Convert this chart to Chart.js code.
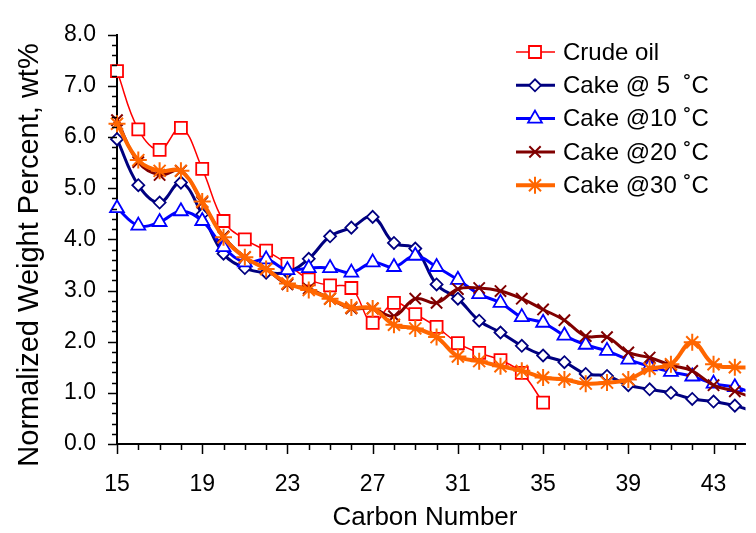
<!DOCTYPE html>
<html>
<head>
<meta charset="utf-8">
<script src="https://cdn.jsdelivr.net/npm/chart.js@4/dist/chart.umd.min.js"></script>
<style>
  html, body { margin: 0; padding: 0; background: #fff; }
  #wrap { width: 756px; height: 533px; position: relative; }
</style>
</head>
<body>
<div id="wrap"><canvas id="chart"></canvas></div>
<script>
// --- data ---
const carbonNumbers = [15,16,17,18,19,20,21,22,23,24,25,26,27,28,29,30,31,32,33,34,35,36,37,38,39,40,41,42,43,44,45];
const crudeOil = [7.29, 6.15, 5.75, 6.18, 5.38, 4.36, 4.00, 3.78, 3.52, 3.22, 3.10, 3.05, 2.37, 2.76, 2.54, 2.29, 1.97, 1.78, 1.64, 1.39, 0.81];
const cake5  = [5.96, 5.06, 4.72, 5.11, 4.49, 3.72, 3.44, 3.35, 3.36, 3.62, 4.06, 4.23, 4.44, 3.93, 3.82, 3.12, 2.84, 2.41, 2.18, 1.92, 1.73, 1.60, 1.37, 1.33, 1.15, 1.07, 1.00, 0.88, 0.83, 0.75, 0.62];
const cake10 = [4.61, 4.27, 4.34, 4.55, 4.36, 3.85, 3.55, 3.61, 3.40, 3.44, 3.44, 3.35, 3.55, 3.46, 3.68, 3.46, 3.21, 2.93, 2.76, 2.48, 2.37, 2.12, 1.94, 1.82, 1.65, 1.52, 1.41, 1.32, 1.18, 1.11, 0.98];
const cake20 = [6.33, 5.51, 5.26, 5.34, 4.72, 4.06, 3.65, 3.42, 3.12, 3.04, 2.84, 2.65, 2.65, 2.50, 2.84, 2.76, 3.03, 3.05, 2.99, 2.84, 2.63, 2.42, 2.11, 2.09, 1.79, 1.69, 1.54, 1.43, 1.15, 1.03, 0.88];
const cake30 = [6.26, 5.55, 5.34, 5.34, 4.74, 4.04, 3.65, 3.42, 3.14, 3.01, 2.84, 2.67, 2.65, 2.33, 2.26, 2.09, 1.71, 1.62, 1.52, 1.43, 1.30, 1.26, 1.18, 1.20, 1.26, 1.47, 1.56, 1.99, 1.56, 1.50, 1.50];
const seriesNames = ['Crude oil', 'Cake @ 5  \u02DAC', 'Cake @10 \u02DAC', 'Cake @20 \u02DAC', 'Cake @30 \u02DAC'];
const xTickLabels = [15, 19, 23, 27, 31, 35, 39, 43];
const yTickLabels = ['0.0','1.0','2.0','3.0','4.0','5.0','6.0','7.0','8.0'];

const FONT = '"Liberation Sans", Arial, sans-serif';

function pts(values) {
    return values.map((v, i) => ({ x: carbonNumbers[i], y: v }));
}

function series(i, values, color, lineW, style, radius, ptW) {
    return {
        label: seriesNames[i],
        data: pts(values),
        borderColor: color,
        borderWidth: lineW,
        pointStyle: style,
        pointRadius: radius,
        pointBorderColor: color,
        pointBackgroundColor: '#fff',
        pointBorderWidth: ptW,
        tension: 0.4,
        order: 4 - i,
        clip: { left: 20, top: 20, right: 0, bottom: 20 }
    };
}

const datasets = [
    series(0, crudeOil, '#FF0000', 1.5, 'rect', 8.5, 1.8),
    series(1, cake5, '#000080', 3, 'rectRot', 6, 1.8),
    series(2, cake10, '#0000FF', 3, 'triangle', 8, 1.8),
    series(3, cake20, '#800000', 3, 'crossRot', 8, 2),
    series(4, cake30, '#FF6600', 4, 'star', 8.5, 2)
];

function drawMarker(ctx, ds, px, py) {
    ctx.save();
    ctx.fillStyle = '#fff';
    ctx.strokeStyle = ds.borderColor;
    ctx.lineWidth = ds.pointBorderWidth;
    Chart.helpers.drawPoint(ctx, { pointStyle: ds.pointStyle, radius: ds.pointRadius, borderWidth: ds.pointBorderWidth, rotation: 0 }, px, py);
    ctx.restore();
}

// ticks, axis titles and the line+marker legend
const extras = {
    id: 'extras',
    afterDatasetsDraw(chart) {
        const { ctx, scales: { x, y }, chartArea: a } = chart;
        ctx.save();
        ctx.strokeStyle = '#000';
        ctx.lineWidth = 1.5;
        ctx.beginPath();
        for (let k = 0; k <= 40; k++) {
            const py = Math.round(y.getPixelForValue(k * 0.2)) + 0.5;
            const major = k % 5 === 0;
            ctx.moveTo(a.left - (major ? 9 : 5), py);
            ctx.lineTo(a.left, py);
        }
        for (let c = 15; c <= 44; c++) {
            const px = Math.round(x.getPixelForValue(c)) + 0.5;
            const major = (c - 15) % 4 === 0;
            ctx.moveTo(px, a.bottom);
            ctx.lineTo(px, a.bottom + (major ? 10 : 6));
        }
        ctx.stroke();

        // axis titles
        ctx.fillStyle = '#000';
        ctx.textAlign = 'center';
        ctx.textBaseline = 'middle';
        ctx.font = '26px ' + FONT;
        ctx.fillText('Carbon Number', 425, 518);
        ctx.translate(30, 255);
        ctx.rotate(-Math.PI / 2);
        ctx.font = '29px ' + FONT;
        ctx.fillText('Normalized Weight Percent, wt%', 0, 0);
        ctx.setTransform(1, 0, 0, 1, 0, 0);

        // legend
        ctx.font = '24px ' + FONT;
        ctx.textAlign = 'left';
        chart.data.datasets.forEach((ds, i) => {
            const cy = 52 + i * 33.3;
            ctx.strokeStyle = ds.borderColor;
            ctx.lineWidth = ds.borderWidth;
            ctx.beginPath();
            ctx.moveTo(516, cy);
            ctx.lineTo(555, cy);
            ctx.stroke();
            drawMarker(ctx, ds, 535, cy);
            ctx.fillStyle = '#000';
            ctx.fillText(ds.label, 563, cy + 1);
        });
        ctx.restore();
    }
};

new Chart(document.getElementById('chart'), {
    type: 'line',
    data: { datasets },
    plugins: [extras],
    options: {
        responsive: true,
        maintainAspectRatio: false,
        animation: false,
        events: [],
        layout: { padding: { top: 18, right: 0, left: 0, bottom: 0 } },
        plugins: { legend: { display: false }, tooltip: { enabled: false } },
        scales: {
            x: {
                type: 'linear',
                min: 15,
                max: 44.5,
                afterBuildTicks: s => { s.ticks = xTickLabels.map(v => ({ value: v })); },
                afterFit: s => { s.height = 89; },
                grid: { display: false, drawTicks: false },
                border: { display: true, color: '#000', width: 2 },
                ticks: { color: '#000', font: { family: FONT, size: 23 }, padding: 27, maxRotation: 0, autoSkip: false }
            },
            y: {
                min: 0,
                max: 8,
                afterBuildTicks: s => { s.ticks = yTickLabels.map(t => ({ value: parseFloat(t) })); },
                afterFit: s => { s.width = 117; },
                grid: { display: false, drawTicks: false },
                border: { display: true, color: '#000', width: 2 },
                ticks: { color: '#000', font: { family: FONT, size: 23 }, padding: 21, callback: v => yTickLabels[Math.round(v)] }
            }
        }
    }
});
</script>
</body>
</html>
